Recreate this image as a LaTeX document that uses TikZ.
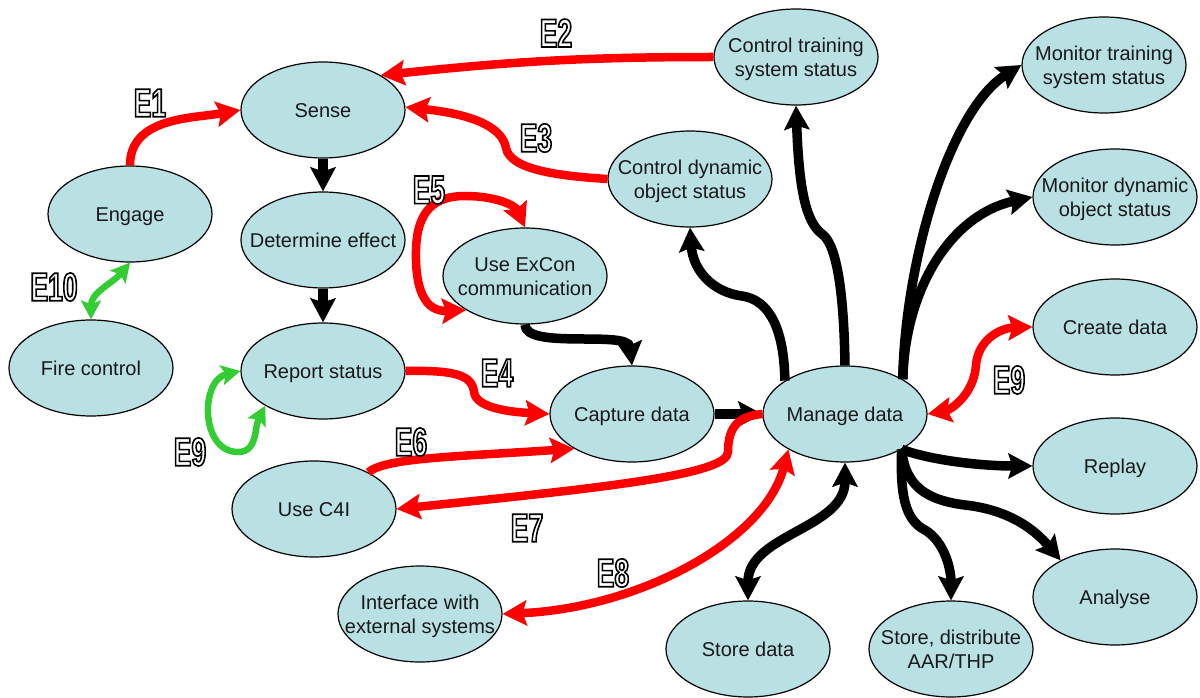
\documentclass[tikz,border=0pt]{standalone}
\usepackage{fontspec}
\setmainfont{Liberation Sans}
\newfontfamily\labfam[FakeStretch=0.66]{Liberation Sans}
\usetikzlibrary{shapes.geometric,arrows.meta}

\definecolor{nodefill}{RGB}{185,224,227}
\definecolor{grnc}{RGB}{51,204,51}
\definecolor{redc}{RGB}{255,0,0}

% node text: zero-width centred block so the ellipse keeps its fixed size
\newcommand\nt[1]{\makebox[0pt]{\raisebox{-3pt}[\height][\depth]{%
  \begin{tabular}{@{}c@{}}#1\end{tabular}}}}

% outlined edge labels: white glyphs with a black stroke (text render mode 2)
\newcommand\labfont{\labfam\bfseries\fontsize{40}{40}\selectfont}
\newcommand\olt[1]{{\labfont
  \special{pdf:bc [1] [0]}%
  \special{pdf:literal direct 1.6 w 2 Tr}%
  #1%
  \special{pdf:literal direct 0 Tr}%
  \special{pdf:ec}}}

\tikzset{
  st/.style={ellipse, draw=black, line width=1.2pt, fill=nodefill,
    minimum width=164pt, minimum height=96pt, inner sep=0pt,
    font=\fontsize{20}{24}\selectfont, text=black!90},
  elab/.style={inner sep=0pt},
  >={Stealth[length=24pt,width=25pt,inset=4pt]},
  blk/.style={draw=black, line width=9.5pt, ->},
  rd/.style={draw=redc, line width=8.5pt, ->},
  grn/.style={draw=grnc, line width=6.5pt,
    >={Stealth[length=19pt,width=20pt,inset=4pt]}, <->},
}

\begin{document}
\begin{tikzpicture}[x=1pt,y=-1pt]
\fill[white] (0,0) rectangle (1200,698);
\useasboundingbox (0,0) rectangle (1200,698);

% activities
\node[st] (sense)     at (323,110) {\nt{Sense}};
\node[st] (engage)    at (130,214) {\nt{Engage}};
\node[st] (fire)      at (91,368)  {\nt{Fire control}};
\node[st] (determ)    at (323,240) {\nt{Determine effect}};
\node[st] (report)    at (323,371) {\nt{Report status}};
\node[st] (c4i)       at (314,509) {\nt{Use C4I}};
\node[st] (excon)     at (525,276) {\nt{Use ExCon\\communication}};
\node[st] (capture)   at (632,414) {\nt{Capture data}};
\node[st] (manage)    at (845,414) {\nt{Manage data}};
\node[st] (storedata) at (748,649) {\nt{Store data}};
\node[st] (storedist) at (951,649) {\nt{Store, distribute\\AAR/THP}};
\node[st] (iface)     at (420,614) {\nt{Interface with\\external systems}};
\node[st] (ctrltrain) at (796,57)  {\nt{Control training\\system status}};
\node[st] (ctrldyn)   at (690,179) {\nt{Control dynamic\\object status}};
\node[st] (montrain)  at (1104,65) {\nt{Monitor training\\system status}};
\node[st] (mondyn)    at (1115,197) {\nt{Monitor dynamic\\object status}};
\node[st] (create)    at (1115,327) {\nt{Create data}};
\node[st] (replay)    at (1115,466) {\nt{Replay}};
\node[st] (analyse)   at (1115,597) {\nt{Analyse}};

% black data flows
\draw[blk] (sense.south) -- (determ.north);
\draw[blk] (determ.south) -- (report.north);
\draw[blk] (excon.south) .. controls (525,350) and (628,330) .. (capture.north);
\draw[blk] (capture.east) -- (manage.west);
\draw[blk] (manage.151) .. controls (784,330) and (770,300) .. (742,296)
  .. controls (712,292) and (693,270) .. (ctrldyn.south);
\draw[blk] (manage.north) .. controls (844,300) and (838,245) .. (822,234)
  .. controls (806,222) and (799,190) .. (ctrltrain.south);
\draw[blk] (manage.31) .. controls (905,260) and (950,110) .. (montrain.west);
\draw[blk] (manage.31) .. controls (905,290) and (950,215) .. (mondyn.west);
\draw[blk] (manage.-32) .. controls (930,460) and (980,466) .. (replay.west);
\draw[blk] (manage.-32) .. controls (905,485) and (925,500) .. (965,505)
  .. controls (1010,510) and (1035,530) .. (analyse.146);
\draw[blk] (manage.-32) .. controls (900,495) and (905,520) .. (925,530)
  .. controls (945,542) and (951,570) .. (storedist.north);
\draw[blk,<->] (manage.south) to[out=-90,in=90] (storedata.north);

% red event flows
\draw[rd] (engage.north) to[out=90,in=190] (sense.west);
\draw[rd] (ctrltrain.west) to[out=180,in=6] (sense.31);
\draw[rd] (ctrldyn.west) .. controls (560,176) and (510,170) .. (506,148)
  .. controls (502,126) and (470,114) .. (sense.2);
\draw[rd,<->] (excon.210) .. controls (425,312) and (415,290) .. (416,250)
  .. controls (417,210) and (435,196) .. (465,196)
  .. controls (495,196) and (515,205) .. (excon.north);
\draw[rd] (report.east) .. controls (455,370) and (472,375) .. (474,392)
  .. controls (476,408) and (510,412) .. (capture.west);
\draw[rd] (c4i.34) .. controls (385,458) and (450,457) .. (capture.211);
\draw[rd] (manage.west) .. controls (740,416) and (728,425) .. (728,452)
  .. controls (728,475) and (600,488) .. (c4i.east);
\draw[rd,<->] (iface.east) .. controls (640,608) and (765,540) .. (manage.212);
\draw[rd,<->] (manage.east) .. controls (950,410) and (974,395) .. (976,365)
  .. controls (978,340) and (1000,328) .. (create.west);

% green event flows
\draw[grn] (engage.south) to[out=-130,in=90] (fire.north);
\draw[grn] (report.west) .. controls (200,380) and (200,452) .. (238,452)
  .. controls (258,452) and (254,428) .. (report.211);

% event labels
\node[elab] (e1)  at (150,103) {\olt{E1}};
\node[elab] (e2)  at (556,33)  {\olt{E2}};
\node[elab] (e3)  at (536,138) {\olt{E3}};
\node[elab] (e4)  at (497,373) {\olt{E4}};
\node[elab] (e5)  at (429,190) {\olt{E5}};
\node[elab] (e6)  at (411,442) {\olt{E6}};
\node[elab] (e7)  at (527,528) {\olt{E7}};
\node[elab] (e8)  at (613,573) {\olt{E8}};
\node[elab] (e9a) at (190,452) {\olt{E9}};
\node[elab] (e9b) at (1009,380) {\olt{E9}};
\node[elab] (e10) at (54,287)  {\olt{E10}};
\end{tikzpicture}
\end{document}
